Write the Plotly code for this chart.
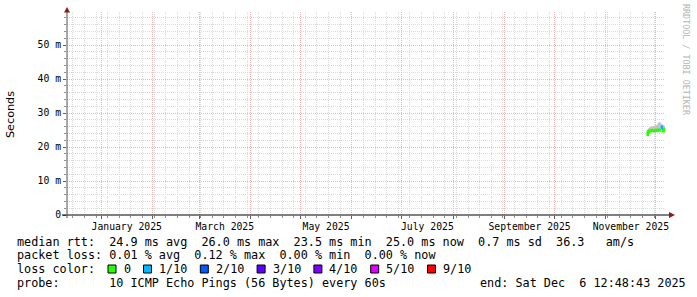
import plotly.graph_objects as go

# ---------------- data ----------------
x_start = "2024-12-11 12:48:43"
x_end = "2025-12-06 12:48:43"

times = [
    "2025-11-25 12:00", "2025-11-26 03:00", "2025-11-26 18:00", "2025-11-27 08:00",
    "2025-11-27 23:00", "2025-11-28 13:00", "2025-11-29 04:00", "2025-11-29 18:00",
    "2025-11-30 09:00", "2025-12-01 00:00", "2025-12-01 14:00", "2025-12-02 05:00",
    "2025-12-02 19:00", "2025-12-03 10:00", "2025-12-04 01:00", "2025-12-04 15:00",
    "2025-12-05 06:00", "2025-12-05 20:00", "2025-12-06 11:00",
]
median_ms = [23.5, 24.3, 24.6, 24.8, 24.7, 24.9, 24.8, 24.7, 24.9, 25.0,
             24.8, 25.1, 24.9, 25.3, 26.0, 25.2, 24.6, 25.4, 25.0]
smoke_lo_ms = [23.1, 23.9, 24.2, 24.4, 24.3, 24.5, 24.4, 24.3, 24.5, 24.6,
               24.4, 24.7, 24.5, 24.8, 25.5, 24.8, 24.2, 24.9, 24.6]
smoke_hi_ms = [25.0, 25.4, 25.6, 25.8, 25.9, 26.0, 26.2, 26.0, 26.3, 26.5,
               26.4, 27.0, 27.3, 27.4, 27.2, 26.8, 26.2, 26.6, 26.0]
loss_class = [0, 0, 0, 0, 0, 0, 0, 0, 0, 0, 0, 0, 0, 0, 1, 0, 0, 0, 0]

loss_labels = ["0", "1/10", "2/10", "3/10", "4/10", "5/10", "9/10"]
loss_colors = ["#26ff00", "#00b8ff", "#0059ff", "#5e00ff", "#7e00ff", "#dd00ff", "#ff0000"]

month_label_dates = ["2025-01-16 12:00", "2025-03-16 12:00", "2025-05-16 12:00",
                     "2025-07-16 12:00", "2025-09-16 00:00", "2025-11-16 00:00"]
month_labels = ["January 2025", "March 2025", "May 2025",
                "July 2025", "September 2025", "November 2025"]

y_tick_vals = [0, 10, 20, 30, 40, 50]
y_tick_text = ["0", "10 m", "20 m", "30 m", "40 m", "50 m"]

legend_line1 = "median rtt:  24.9 ms avg  26.0 ms max  23.5 ms min  25.0 ms now  0.7 ms sd  36.3   am/s"
legend_line2 = "packet loss: 0.01 % avg  0.12 % max  0.00 % min  0.00 % now"
legend_line3 = "loss color:"
legend_line4 = "probe:       10 ICMP Echo Pings (56 Bytes) every 60s"
legend_end = "end: Sat Dec  6 12:48:43 2025"
watermark = "RRDTOOL / TOBI OETIKER"
y_title = "Seconds"

# ---------------- layout helpers ----------------
W, H = 697, 297
L, R, T, B = 67, 665, 12, 215
Y_TOP = (B - T) / 3.4  # 10 ms = 34 px


def px(x):
    return (x - L) / (R - L)


def py(y):
    return (B - y) / (B - T)


MONO = "DejaVu Sans Mono"
CW = 7.1  # legend char width in px
LEG_FONT = CW / 0.602

fig = go.Figure()

# smoke
fig.add_trace(go.Scatter(x=times, y=smoke_lo_ms, mode="lines", line=dict(width=0),
                         hoverinfo="skip", showlegend=False))
fig.add_trace(go.Scatter(x=times, y=smoke_hi_ms, mode="lines", line=dict(width=0),
                         fill="tonexty", fillcolor="#c4c4c4", hoverinfo="skip",
                         showlegend=False))

# median, coloured by loss class
for k, col in enumerate(loss_colors):
    ys = []
    for i, m in enumerate(median_ms):
        on = loss_class[i] == k or (i > 0 and loss_class[i - 1] == k and k != 0)
        ys.append(m if on else None)
    if any(v is not None for v in ys):
        fig.add_trace(go.Scatter(x=times, y=ys, mode="lines",
                                 line=dict(color=col, width=2.5, shape="hv"),
                                 connectgaps=False, hoverinfo="skip", showlegend=False))

# invisible trace for the label axis
fig.add_trace(go.Scatter(x=times, y=median_ms, xaxis="x2", mode="lines",
                         line=dict(width=0, color="rgba(0,0,0,0)"),
                         hoverinfo="skip", showlegend=False))

grid_red = "#f0b4b4"
grid_gray = "#dadada"

fig.update_layout(
    width=W, height=H,
    margin=dict(l=L, r=W - R, t=T, b=H - B, pad=0),
    paper_bgcolor="white", plot_bgcolor="white",
    showlegend=False,
    xaxis=dict(
        type="date", range=[x_start, x_end],
        tickmode="linear", tick0="2025-01-01", dtick="M1",
        showgrid=True, gridcolor=grid_red, griddash="1px,1px", gridwidth=1,
        showticklabels=False, ticks="outside", ticklen=3, tickcolor="#606060",
        zeroline=False, showline=False,
        minor=dict(dtick=7 * 86400000, tick0="2024-12-15",
                   showgrid=True, gridcolor=grid_gray, griddash="1px,1px", gridwidth=1,
                   ticks="outside", ticklen=2, tickcolor="#909090"),
    ),
    xaxis2=dict(
        type="date", range=[x_start, x_end], overlaying="x", side="bottom",
        tickmode="array", tickvals=month_label_dates, ticktext=month_labels,
        showgrid=False, ticks="", zeroline=False, showline=False,
        tickfont=dict(family=MONO, size=9.75, color="black"),
        ticklabelstandoff=4,
    ),
    yaxis=dict(
        range=[0, Y_TOP],
        tickmode="array", tickvals=y_tick_vals, ticktext=y_tick_text,
        showgrid=True, gridcolor=grid_red, griddash="1px,1px", gridwidth=1,
        ticks="outside", ticklen=3, tickcolor="#606060",
        tickfont=dict(family=MONO, size=9.75, color="black"),
        zeroline=False, showline=False,
        minor=dict(dtick=2, tick0=0, showgrid=True, gridcolor=grid_gray,
                   griddash="1px,1px", gridwidth=1,
                   ticks="outside", ticklen=2, tickcolor="#909090"),
    ),
)

shapes = []
# axes lines
shapes.append(dict(type="line", xref="paper", yref="paper",
                   x0=px(62), x1=px(670), y0=py(215), y1=py(215),
                   line=dict(color="black", width=1)))
shapes.append(dict(type="line", xref="paper", yref="paper",
                   x0=px(67), x1=px(67), y0=py(218), y1=py(10),
                   line=dict(color="#505050", width=1)))
# arrows
shapes.append(dict(type="path", xref="paper", yref="paper",
                   path=f"M {px(64)} {py(12.5)} L {px(70)} {py(12.5)} L {px(67)} {py(7)} Z",
                   fillcolor="#8b1a1a", line=dict(width=0)))
shapes.append(dict(type="path", xref="paper", yref="paper",
                   path=f"M {px(669)} {py(212)} L {px(669)} {py(218)} L {px(675)} {py(215)} Z",
                   fillcolor="#8b1a1a", line=dict(width=0)))

annotations = []


def add_text(text, x, y, size=LEG_FONT, color="black", family=MONO, anchor="left", angle=0):
    annotations.append(dict(text=text, x=px(x), y=py(y), xref="paper", yref="paper",
                            xanchor=anchor, yanchor="middle", showarrow=False,
                            textangle=angle, borderpad=0,
                            font=dict(family=family, size=size, color=color)))


LX = 16
add_text(legend_line1, LX, 241.5)
add_text(legend_line2, LX, 255)
add_text(legend_line3, LX, 269)
add_text(legend_line4, LX, 283)
add_text(legend_end, 478.5, 283)

# loss color legend boxes
pos = 13
for lab, col in zip(loss_labels, loss_colors):
    bx = LX + pos * CW - 0.3
    shapes.append(dict(type="rect", xref="paper", yref="paper",
                       x0=px(bx), x1=px(bx + 8), y0=py(273), y1=py(265),
                       fillcolor=col, line=dict(color="black", width=1)))
    add_text(lab, LX + (pos + 2) * CW, 269)
    pos += 2 + len(lab) + 2

add_text(y_title, 11, 115, size=11.2, family="DejaVu Sans", anchor="center", angle=-90)
add_text(watermark, 686, 60, size=8.4, color="#b4b4b4", anchor="center", angle=90)

fig.update_layout(shapes=shapes, annotations=annotations)

fig.write_html("out.html")
